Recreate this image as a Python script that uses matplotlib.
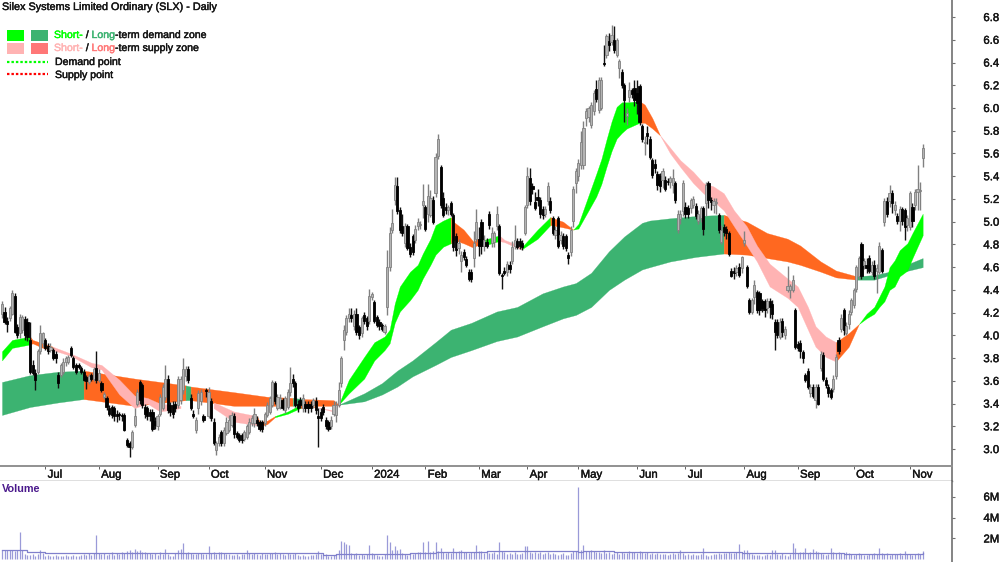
import matplotlib
matplotlib.use("Agg")
import matplotlib.pyplot as plt
import matplotlib.patheffects as pe
from matplotlib.patches import Rectangle

plt.rcParams['font.family'] = ['Liberation Sans', 'DejaVu Sans']

TITLE = "Silex Systems Limited Ordinary (SLX) - Daily"
price_ticks = [3.0, 3.2, 3.4, 3.6, 3.8, 4.0, 4.2, 4.4, 4.6, 4.8, 5.0, 5.2, 5.4, 5.6, 5.8, 6.0, 6.2, 6.4, 6.6, 6.8]
month_pos = [17, 38, 61, 81, 103, 125, 145, 166, 187, 206, 226, 249, 268, 291, 312, 334, 356]
month_labels = ["Jul", "Aug", "Sep", "Oct", "Nov", "Dec", "2024", "Feb", "Mar", "Apr", "May", "Jun", "Jul", "Aug", "Sep", "Oct", "Nov"]
vol_ticks = [2, 4, 6]
vol_tick_labels = ["2M", "4M", "6M"]

opens = [
 4.19,4.21,4.13,4.15,4.19,4.35,4.07,4.02,4.05,4.14, 4.12,3.96,3.74,3.67,3.68,3.86,3.93,3.96,3.91,3.87,
 3.87,3.84,3.65,3.65,3.68,3.77,3.77,3.89,3.80,3.74, 3.74,3.71,3.68,3.63,3.59,3.65,3.62,3.71,3.61,3.58,
 3.46,3.45,3.36,3.37,3.36,3.31,3.31,3.30,3.30,3.08, 3.05,3.02,3.21,3.40,3.59,3.56,3.37,3.36,3.33,3.33,
 3.25,3.20,3.31,3.36,3.46,3.62,3.39,3.39,3.40,3.39, 3.43,3.52,3.64,3.70,3.45,3.31,3.17,3.36,3.42,3.29,
 3.52,3.29,3.42,3.24,2.99,3.05,3.15,3.05,3.14,3.17, 3.21,3.29,3.14,3.12,3.12,3.09,3.11,3.15,3.23,3.23,
 3.26,3.24,3.24,3.23,3.30,3.33,3.39,3.58,3.36,3.37, 3.43,3.34,3.37,3.50,3.62,3.58,3.40,3.43,3.36,3.40,
 3.40,3.40,3.39,3.42,3.29,3.33,3.37,3.26,3.24,3.20, 3.31,3.30,3.39,3.58,3.96,4.03,4.15,4.18,4.08,4.19,
 4.07,4.02,4.18,4.15,4.13,4.34,4.29,4.16,4.12,4.09, 4.03,4.25,4.60,4.93,5.19,5.31,5.10,4.96,4.81,4.96,
 4.78,4.87,4.84,4.96,4.97,5.15,5.13,5.07,5.06,5.19, 5.25,5.58,5.48,5.21,5.13,5.10,5.16,5.06,4.87,4.77,
 4.65,4.73,4.67,4.56,4.56,4.68,4.85,4.85,5.00,4.79, 4.82,5.07,4.81,4.82,4.96,4.96,4.53,4.57,4.56,4.62,
 4.65,4.79,4.83,4.83,4.81,4.90,5.15,5.38,5.31,5.17, 5.22,5.19,5.11,5.07,5.18,5.18,5.03,4.88,5.03,4.84,
 4.87,4.87,4.71,4.73,5.01,5.34,5.40,5.50,5.50,5.91, 5.92,5.85,5.97,6.17,5.98,6.00,6.40,6.47,6.59,6.58,
 6.60,6.47,6.35,6.32,6.20,5.93,6.10,6.16,6.18,6.13, 6.19,5.84,5.69,5.78,5.73,5.54,5.51,5.42,5.40,5.37,
 5.37,5.36,5.35,5.32,5.34,4.93,5.02,5.09,5.13,5.12, 5.12,5.15,5.14,5.01,5.03,5.12,5.16,5.34,5.19,5.15,
 5.16,5.06,4.82,4.95,4.94,4.90,4.57,4.57,4.56,4.60, 4.59,4.81,4.60,4.31,4.21,4.34,4.38,4.37,4.30,4.30,
 4.24,4.30,4.28,4.12,4.12,3.99,4.13,4.00,4.40,4.40, 4.40,4.22,3.92,3.93,3.85,3.65,3.69,3.49,3.55,3.43,
 3.55,3.71,3.83,3.61,3.55,3.52,3.53,3.64,3.96,4.06, 4.22,4.02,4.10,4.21,4.27,4.41,4.52,4.80,4.62,4.62,
 4.68,4.56,4.62,4.57,4.56,4.75,5.00,5.18,5.18,5.25, 5.10,5.05,5.01,5.11,5.10,4.97,4.95,5.13,5.15,5.26,5.27,5.56]
closes = [
 4.28,4.12,4.10,4.24,4.37,4.03,4.00,4.16,4.16,4.00, 3.99,3.68,3.67,3.61,3.86,4.02,4.02,3.89,3.86,3.90,
 3.80,3.80,3.58,3.74,3.77,3.80,3.81,3.83,3.72,3.68, 3.72,3.68,3.61,3.60,3.64,3.62,3.70,3.61,3.67,3.52,
 3.48,3.37,3.31,3.30,3.29,3.29,3.30,3.29,3.17,3.04, 3.02,3.15,3.29,3.50,3.43,3.39,3.31,3.29,3.29,3.18,
 3.21,3.29,3.46,3.55,3.62,3.34,3.33,3.31,3.36,3.62, 3.62,3.70,3.70,3.61,3.36,3.29,3.26,3.49,3.50,3.26,
 3.51,3.50,3.27,3.05,3.05,3.11,3.05,3.17,3.24,3.26, 3.30,3.13,3.11,3.08,3.08,3.15,3.20,3.24,3.27,3.31,
 3.23,3.18,3.18,3.31,3.39,3.45,3.59,3.42,3.46,3.45, 3.36,3.45,3.50,3.58,3.58,3.39,3.36,3.39,3.45,3.36,
 3.36,3.36,3.43,3.34,3.27,3.27,3.33,3.20,3.18,3.26, 3.39,3.39,3.52,3.80,4.05,4.15,4.19,4.15,4.19,4.03,
 4.00,4.15,4.13,4.08,4.35,4.36,4.13,4.09,4.08,4.06, 4.08,4.60,4.90,4.99,5.32,5.09,4.93,4.90,4.96,4.77,
 4.72,4.73,4.94,5.00,4.98,5.18,4.94,5.23,5.21,5.00, 5.57,5.73,5.15,5.06,5.10,5.13,5.07,4.78,4.75,4.81,
 4.71,4.69,4.62,4.50,4.50,4.81,5.00,4.79,4.79,4.84, 4.79,4.97,4.90,4.90,5.07,4.55,4.52,4.55,4.63,4.58,
 4.78,4.84,4.78,4.79,4.78,5.13,5.40,5.18,5.29,5.12, 5.19,5.07,5.06,5.11,5.31,5.10,4.90,4.93,4.79,4.88,
 4.79,4.77,4.68,4.93,5.29,5.45,5.52,5.70,5.82,5.97, 6.00,6.03,6.13,6.08,6.25,6.25,6.39,6.63,6.55,6.64,
 6.51,6.60,6.41,6.20,6.07,5.96,6.16,6.12,6.07,6.04, 5.88,5.73,5.70,5.75,5.57,5.41,5.47,5.32,5.31,5.45,
 5.29,5.35,5.38,5.38,5.19,5.07,5.07,5.34,5.07,5.07, 5.19,5.20,5.05,5.07,5.12,4.94,5.32,5.19,5.17,5.18,
 5.17,4.93,4.93,4.91,4.90,4.72,4.52,4.55,4.59,4.53, 4.69,4.84,4.43,4.21,4.31,4.44,4.22,4.22,4.24,4.22,
 4.30,4.25,4.19,4.03,4.00,4.12,4.03,4.06,4.43,4.43, 4.49,3.90,3.89,3.86,3.80,3.61,3.55,3.55,3.47,3.55,
 3.40,3.84,3.62,3.56,3.49,3.46,3.62,3.81,3.86,4.15, 4.05,4.08,4.19,4.31,4.40,4.60,4.68,4.52,4.65,4.59,
 4.57,4.62,4.52,4.59,4.79,4.57,5.18,5.07,5.25,5.16, 5.15,5.01,5.11,5.01,4.95,5.03,5.25,5.01,5.26,5.29,5.28,5.65]
lows = [
 4.15,4.10,4.03,4.13,4.18,4.02,3.98,3.98,4.02,3.96, 3.95,3.66,3.65,3.52,3.66,3.84,3.90,3.87,3.84,3.85,
 3.78,3.76,3.54,3.63,3.66,3.73,3.75,3.81,3.70,3.66, 3.70,3.66,3.60,3.53,3.57,3.60,3.60,3.58,3.59,3.50,
 3.44,3.34,3.29,3.27,3.25,3.24,3.26,3.25,3.16,3.02, 2.93,3.00,3.19,3.38,3.40,3.36,3.27,3.26,3.25,3.16,
 3.18,3.17,3.29,3.34,3.43,3.32,3.29,3.27,3.33,3.36, 3.40,3.48,3.60,3.58,3.34,3.27,3.14,3.31,3.39,3.24,
 3.46,3.27,3.25,3.04,2.95,3.03,3.03,3.03,3.12,3.15, 3.19,3.10,3.09,3.06,3.05,3.07,3.09,3.13,3.20,3.19,
 3.20,3.16,3.15,3.20,3.28,3.31,3.37,3.40,3.34,3.35, 3.34,3.32,3.35,3.47,3.55,3.37,3.33,3.36,3.33,3.33,
 3.32,3.33,3.36,3.31,3.02,3.25,3.30,3.18,3.16,3.18, 3.29,3.24,3.37,3.55,3.87,4.00,4.12,4.12,4.05,4.00,
 3.97,3.99,4.10,4.05,4.10,4.31,4.11,4.07,4.05,4.04, 4.01,4.18,4.57,4.90,5.15,5.07,4.90,4.87,4.78,4.75,
 4.69,4.71,4.81,4.93,4.94,5.03,4.92,5.00,5.04,4.98, 5.22,5.55,5.12,5.04,5.07,5.06,5.05,4.74,4.70,4.72,
 4.56,4.66,4.60,4.48,4.47,4.60,4.82,4.70,4.72,4.74, 4.77,4.94,4.78,4.78,4.93,4.53,4.41,4.53,4.52,4.55,
 4.63,4.76,4.76,4.76,4.75,4.88,5.12,5.15,5.24,5.10, 5.14,5.03,5.02,5.04,5.15,5.08,4.88,4.85,4.77,4.80,
 4.76,4.74,4.63,4.70,4.95,5.25,5.36,5.46,5.46,5.84, 5.88,5.82,5.94,6.05,5.96,5.98,6.37,6.44,6.50,6.55,
 6.48,6.45,6.26,6.18,5.88,5.85,6.05,6.09,6.02,5.95, 5.85,5.70,5.59,5.68,5.55,5.38,5.43,5.28,5.26,5.30,
 5.27,5.32,5.30,5.25,5.16,4.90,4.98,5.05,5.03,5.03, 5.08,5.12,5.02,4.98,5.00,4.88,5.05,5.12,5.10,5.08,
 5.07,4.90,4.80,4.87,4.85,4.70,4.51,4.50,4.52,4.51, 4.55,4.79,4.42,4.19,4.19,4.28,4.20,4.18,4.21,4.16,
 4.20,4.15,4.14,3.87,3.98,3.97,3.99,3.97,4.38,4.33, 4.38,3.88,3.86,3.80,3.76,3.59,3.53,3.46,3.45,3.36,
 3.39,3.69,3.60,3.54,3.46,3.44,3.50,3.62,3.84,4.03, 4.00,4.00,4.06,4.18,4.24,4.38,4.50,4.50,4.58,4.55,
 4.55,4.53,4.50,4.37,4.54,4.55,4.96,5.04,5.13,5.08, 5.06,4.98,4.92,4.97,4.84,4.92,4.93,4.95,5.10,5.10,5.10,5.48]
highs = [
 4.30,4.25,4.16,4.26,4.40,4.37,4.10,4.19,4.18,4.17, 4.15,4.12,3.78,3.70,3.88,4.09,4.03,3.98,3.93,3.93,
 3.89,3.86,3.68,3.76,3.80,3.82,3.83,3.91,3.82,3.76, 3.76,3.73,3.70,3.65,3.66,3.67,3.72,3.86,3.70,3.60,
 3.50,3.47,3.39,3.39,3.38,3.34,3.33,3.32,3.32,3.10, 3.07,3.17,3.36,3.53,3.61,3.58,3.40,3.38,3.35,3.35,
 3.28,3.31,3.48,3.57,3.74,3.65,3.41,3.42,3.42,3.64, 3.64,3.80,3.73,3.73,3.48,3.34,3.28,3.52,3.53,3.31,
 3.54,3.55,3.45,3.27,3.07,3.13,3.17,3.19,3.28,3.30, 3.33,3.32,3.16,3.14,3.14,3.17,3.22,3.27,3.30,3.36,
 3.29,3.26,3.26,3.33,3.41,3.47,3.61,3.60,3.48,3.48, 3.45,3.47,3.53,3.72,3.66,3.60,3.43,3.46,3.48,3.42,
 3.42,3.42,3.45,3.46,3.36,3.36,3.40,3.28,3.26,3.29, 3.42,3.42,3.59,3.82,4.09,4.18,4.24,4.24,4.22,4.24,
 4.09,4.17,4.21,4.17,4.41,4.38,4.31,4.18,4.14,4.11, 4.10,4.75,4.95,5.11,5.39,5.39,5.13,5.07,4.99,4.98,
 4.81,4.89,4.97,5.03,5.01,5.33,5.15,5.33,5.28,5.23, 5.60,5.77,5.50,5.26,5.16,5.15,5.18,5.08,4.90,4.85,
 4.74,4.76,4.70,4.58,4.58,4.92,5.11,4.95,5.02,4.88, 4.86,5.09,4.95,4.92,5.14,4.98,4.55,4.60,4.65,4.65,
 4.83,4.97,4.86,4.86,4.84,5.15,5.48,5.47,5.34,5.26, 5.29,5.22,5.14,5.14,5.35,5.22,5.05,4.96,5.05,4.92,
 4.90,4.89,4.73,4.96,5.31,5.47,5.55,5.80,5.89,6.00, 6.02,6.05,6.16,6.25,6.27,6.27,6.55,6.65,6.66,6.73,
 6.72,6.62,6.43,6.34,6.22,6.00,6.23,6.18,6.25,6.25, 6.21,5.86,5.75,5.84,5.75,5.56,5.55,5.45,5.43,5.47,
 5.40,5.38,5.40,5.46,5.36,5.10,5.10,5.37,5.17,5.15, 5.21,5.23,5.16,5.10,5.14,5.14,5.35,5.36,5.22,5.21,
 5.21,5.08,4.97,4.98,4.96,4.92,4.59,4.60,4.62,4.64, 4.70,4.92,4.62,4.33,4.33,4.49,4.40,4.39,4.32,4.32,
 4.33,4.33,4.31,4.14,4.14,4.15,4.15,4.08,4.61,4.45, 4.53,4.24,3.95,3.96,3.87,3.67,3.71,3.57,3.57,3.57,
 3.57,3.86,3.85,3.63,3.57,3.54,3.65,3.84,3.99,4.19, 4.24,4.12,4.22,4.33,4.42,4.62,4.70,4.82,4.68,4.68,
 4.71,4.65,4.66,4.63,4.82,4.77,5.21,5.22,5.32,5.28, 5.18,5.08,5.14,5.13,5.12,5.06,5.27,5.16,5.29,5.50,5.35,5.68]
volumes = [
 .95,.9,.95,.9,.95,.85,.9,2.65,.9,.5, .45,.4,.5,.35,.5,.95,.6,.3,.4,.35,
 .3,.4,.35,.3,.35,.4,.3,.35,.45,.3, .35,.4,.5,.45,.6,.45,.6,2.3,.6,.5,
 .6,.45,.55,.7,.4,.6,.5,.7,.65,.8, .9,.7,1.0,.85,.9,.7,.75,.6,.65,.5,
 .65,.4,.7,.5,1.0,.55,.3,.35,.6,.95, 1.0,1.55,.6,.7,.6,.55,.5,.65,.6,.5,
 .55,1.3,.6,.7,.5,.7,.75,.6,.5,.55, .4,.45,.5,.35,.5,.55,.9,.65,.5,.6,
 .5,.45,.6,.5,.55,.65,.6,.7,.5,.6, .5,.45,.6,.55,.5,.6,.45,.35,.4,.35,
 .3,.4,.45,.5,.8,.55,.4,.5,.35,.3, .4,.55,.95,1.8,1.7,1.45,1.35,.6,.5,.6,
 .45,.55,.4,.5,1.4,.6,.5,.4,.35,.3, .5,2.35,1.65,.9,1.25,.95,1.0,.6,.55,.45,
 .6,.5,.65,.7,.75,1.7,.7,1.75,.7,.8, 1.7,.8,1.1,.75,.6,.7,.6,1.1,.7,.8,
 .9,.7,.75,.6,.7,.75,1.4,.85,.8,.6, .7,.6,.65,.7,.5,1.7,.8,.7,.55,.6,
 .5,.7,.55,.5,.6,1.3,1.3,.7,.6,.75, .6,.7,.55,.6,.7,.5,.6,.55,.45,.5,
 .6,.45,.4,.65,.8,.8,6.9,.9,1.35,.85, .8,.9,.85,.7,.75,.6,.9,.65,.7,.5,
 .6,.7,.55,.75,.65,.6,.8,.7,.75,.65, .8,.7,.6,.7,.55,.65,.5,.6,.55,.5,
 .55,.45,.5,.6,.55,.65,.9,.6,.4,.5, .45,.5,.4,.45,.5,1.1,.45,.35,.4,.55,
 .5,.6,.55,.65,.6,.7,.65,.6,.7,1.5, .6,.9,.9,.6,.5,.45,.4,.45,.35,.4,
 .5,.45,.9,.9,.5,.45,.6,.4,.35,.5, 1.6,1.1,.6,.7,.75,1.1,.65,.7,1.0,.8,
 .7,.6,.5,.45,.55,1.1,.7,.65,.75,.6, .55,.7,.6,.5,.45,.55,.6,.5,.45,.4,
 .5,.55,.6,.5,1.1,.6,.55,.6,.45,.5, .55,.5,.6,.45,.8,.5,.55,.45,.5,.6,.5,.8]
vol_avg_x = [0, 7, 10, 17, 38, 60, 85, 100, 126, 131, 146, 160, 170, 190, 226, 228, 240, 290, 330, 361]
vol_avg_y = [.95, .9, .7, .62, .58, .6, .65, .6, .47, .55, .55, .6, .7, .8, .75, .85, .75, .6, .55, .6]

# Long-term zone: position, top, bottom, then colour runs
lt_x   = [0, 11, 22, 32, 52, 72, 74, 91, 104, 114, 118, 130, 132, 142, 149, 155, 161, 170, 176, 184, 194, 202, 212, 220, 225, 231, 238, 244, 251, 254, 262, 272, 283, 292, 300, 308, 313, 321, 327, 335, 342, 348, 361]
lt_top = [3.59, 3.65, 3.68, 3.69, 3.62, 3.56, 3.55, 3.50, 3.46, 3.45, 3.44, 3.43, 3.39, 3.49, 3.58, 3.69, 3.78, 3.94, 4.05, 4.11, 4.21, 4.25, 4.37, 4.43, 4.46, 4.55, 4.74, 4.87, 4.99, 5.01, 5.03, 5.05, 5.06, 5.00, 4.90, 4.85, 4.79, 4.65, 4.57, 4.52, 4.53, 4.56, 4.68]
lt_bot = [3.30, 3.37, 3.41, 3.44, 3.38, 3.43, 3.43, 3.38, 3.38, 3.38, 3.38, 3.38, 3.39, 3.42, 3.48, 3.55, 3.64, 3.74, 3.81, 3.87, 3.95, 3.99, 4.08, 4.15, 4.18, 4.25, 4.40, 4.49, 4.58, 4.60, 4.65, 4.69, 4.72, 4.71, 4.68, 4.65, 4.62, 4.56, 4.51, 4.49, 4.49, 4.53, 4.60]
lt_runs = [(0, 32, 'd'), (32, 72, 's'), (72, 74, 'd'), (74, 114, 's'), (114, 118, 'd'), (118, 132, 's'), (132, 283, 'd'), (283, 335, 's'), (335, 361, 'd')]

# Short-term zone: position, top, bottom, then colour runs
st_x = [0, 4, 11, 12, 16, 20, 27, 35, 39, 46, 52, 57, 62, 70, 83, 91, 100, 101, 104, 107, 112, 117, 123, 130, 132,
        136, 142, 146, 150, 152, 154, 156, 160, 163, 165, 168, 170, 173, 176, 177, 181, 185, 186, 189, 195, 197, 203, 204, 210, 215, 220, 224, 226,
        233, 235, 237, 239, 241, 243, 245, 250, 252, 255, 258, 262, 266, 271, 275, 279, 283, 287, 292, 296, 301, 308, 312, 316, 319, 323, 327, 332,
        336, 339, 342, 344, 346, 348, 350, 352, 355, 357, 361]
st_top = [3.86, 3.96, 3.99, 3.96, 3.93, 3.90, 3.84, 3.76, 3.74, 3.61, 3.47, 3.45, 3.40, 3.38, 3.41, 3.33, 3.29, 3.24, 3.25, 3.29, 3.33, 3.39, 3.37, 3.34, 3.39,
          3.61, 3.81, 3.94, 3.99, 4.05, 4.28, 4.43, 4.56, 4.62, 4.72, 4.85, 4.97, 5.01, 5.04, 5.00, 4.93, 4.82, 4.85, 4.84, 4.88, 4.84, 4.79, 4.78, 4.93, 5.04, 5.00, 4.93, 4.98,
          5.42, 5.55, 5.72, 5.88, 6.01, 6.05, 6.05, 6.06, 6.03, 5.91, 5.76, 5.65, 5.54, 5.44, 5.34, 5.31, 5.25, 5.10, 4.96, 4.79, 4.63, 4.50, 4.43, 4.25, 4.08, 3.99, 3.94, 4.02,
          4.10, 4.19, 4.25, 4.34, 4.43, 4.60, 4.66, 4.75, 4.81, 4.90, 5.07]
st_bot = [3.78, 3.89, 3.92, 3.93, 3.89, 3.87, 3.82, 3.72, 3.70, 3.48, 3.36, 3.40, 3.33, 3.36, 3.36, 3.24, 3.21, 3.20, 3.22, 3.28, 3.31, 3.36, 3.37, 3.33, 3.39,
          3.49, 3.62, 3.78, 3.87, 3.93, 4.11, 4.21, 4.31, 4.40, 4.50, 4.62, 4.71, 4.78, 4.81, 4.84, 4.81, 4.77, 4.79, 4.79, 4.83, 4.82, 4.76, 4.76, 4.85, 4.97, 4.95, 4.93, 4.94,
          5.22, 5.33, 5.48, 5.62, 5.73, 5.78, 5.82, 5.87, 5.87, 5.82, 5.76, 5.60, 5.48, 5.34, 5.25, 5.18, 5.10, 4.96, 4.79, 4.65, 4.43, 4.33, 4.25, 4.05, 3.90, 3.81, 3.77, 3.90,
          4.10, 4.15, 4.19, 4.25, 4.30, 4.40, 4.43, 4.52, 4.57, 4.68, 4.88]
st_runs = [(0, 11, 'D'), (11, 20, 's'), (20, 70, 'S'), (83, 100, 'S'), (100, 107, 's'), (107, 117, 'D'), (117, 123, 's'), (123, 132, 'S'),
           (132, 176, 'D'), (176, 189, 's'), (189, 195, 'D'), (195, 204, 'S'), (204, 215, 'D'), (215, 224, 's'), (224, 250, 'D'),
           (250, 258, 's'), (258, 327, 'S'), (327, 336, 's'), (336, 361, 'D')]

ZONE_COL = {'d': '#3cb371', 's': '#ff6820', 'D': '#00ff00', 'S': '#ffb3b3'}
W, H = 1000, 562
RIGHT, STRIP_T, STRIP_B = 952, 466, 481
XMIN, XMAX = -0.78, 372.5

fig = plt.figure(figsize=(10, 5.62), dpi=100, facecolor='white')

def axpx(x0, y0, x1, y1):
    return fig.add_axes([x0 / W, 1 - y1 / H, (x1 - x0) / W, (y1 - y0) / H])

ax = axpx(0, 0, RIGHT, STRIP_T)
strip = axpx(0, STRIP_T, RIGHT, STRIP_B)
vol = axpx(0, STRIP_B, RIGHT, H)

ax.set_xlim(XMIN, XMAX)
ax.set_ylim(2.851, 6.95)
strip.set_xlim(XMIN, XMAX)
strip.set_ylim(0, 1)
vol.set_xlim(XMIN, XMAX)
vol.set_ylim(-0.24, 7.48)

def draw_zone(xs, top, bot, runs):
    for a, b, key in runs:
        idx = [k for k, v in enumerate(xs) if a <= v <= b]
        ax.fill_between([xs[k] for k in idx], [top[k] for k in idx], [bot[k] for k in idx],
                        color=ZONE_COL[key], lw=0.2, zorder=2)

draw_zone(lt_x, lt_top, lt_bot, lt_runs)
draw_zone(st_x, st_top, st_bot, st_runs)

for i, (o, c, l, h) in enumerate(zip(opens, closes, lows, highs)):
    up = c >= o
    ax.vlines(i, l, h, color='#808080' if up else '#111111', lw=1.0, zorder=3)
    ax.bar(i, abs(c - o), bottom=min(o, c), width=0.85,
           facecolor='#b4b4b4' if up else '#000000',
           edgecolor='#808080' if up else '#000000', linewidth=0.6, zorder=4)

vol.vlines(range(len(volumes)), 0, volumes, color='#9a9ad8', lw=0.9, zorder=2)
vol.step(vol_avg_x, vol_avg_y, where='post', color='#8080cc', lw=0.9, zorder=3)

for a in (ax, strip, vol):
    for s in ('left', 'top', 'bottom'):
        a.spines[s].set_visible(False)
    a.spines['right'].set_color('#707070')
    a.spines['right'].set_linewidth(1.2)
    a.set_xticks([])

strip.spines['top'].set_visible(True)
strip.spines['top'].set_color('#909090')
strip.spines['top'].set_linewidth(1.4)
strip.spines['bottom'].set_visible(True)
strip.spines['bottom'].set_color('#606060')
strip.spines['bottom'].set_linewidth(1.0)
strip.set_yticks([])

TXT = '#151515'
FS = 8.2
LEG_FS = 7.6

def thick(col, w=0.3):
    return [pe.withStroke(linewidth=w, foreground=col)]

def right_ticks(a, ticks, labels):
    a.yaxis.tick_right()
    a.set_yticks(ticks)
    a.set_yticklabels(labels)
    a.tick_params(axis='y', length=2.5, width=0.8, color='#707070', pad=31.5, labelsize=FS, labelcolor=TXT)
    for t in a.get_yticklabels():
        t.set_ha('right')
        t.set_path_effects(thick(TXT))

right_ticks(ax, price_ticks, [f"{v:.1f}" for v in price_ticks])
right_ticks(vol, vol_ticks, vol_tick_labels)

for p, lab in zip(month_pos, month_labels):
    strip.vlines(p, 0.82, 1.0, color='#606060', lw=0.7)
    strip.text(p + 0.9, 0.42, lab, fontsize=FS, color=TXT, va='center', ha='left', path_effects=thick(TXT))

fig.text(2 / W, 1 - 7 / H, TITLE, fontsize=7.8, color=TXT, va='center', ha='left', path_effects=thick(TXT))
fig.text(2 / W, 1 - 489 / H, "Volume", fontsize=7.8, color='#4b1a8c', va='center', ha='left', fontweight='bold')

# Legend
boxes = [(7, 30, '#00ff00'), (31, 30, '#3cb371'), (7, 43, '#ffb3b3'), (31, 43, '#ff7777')]
for bx, by, col in boxes:
    fig.add_artist(Rectangle((bx / W, 1 - (by + 10.5) / H), 17 / W, 10.5 / H, transform=fig.transFigure,
                             facecolor=col, edgecolor='none'))
for ly, col in [(62, '#00ff00'), (74, '#ff0000')]:
    fig.add_artist(plt.Line2D([7 / W, 48 / W], [1 - ly / H, 1 - ly / H], transform=fig.transFigure,
                              color=col, lw=1.6, linestyle=(0, (1.1, 0.9))))

def text_width(s, r):
    t = fig.text(0, 0, s + "|", fontsize=LEG_FS)
    b = fig.text(0, 0, "|", fontsize=LEG_FS)
    w = t.get_window_extent(r).width - b.get_window_extent(r).width
    t.remove()
    b.remove()
    return w

def multi_text(x_px, y_px, parts):
    r = fig.canvas.get_renderer()
    prefix = ""
    for s, col in parts:
        x = x_px + text_width(prefix, r) if prefix else x_px
        fig.text(x / W, 1 - y_px / H, s, fontsize=LEG_FS, color=col, va='center', ha='left',
                 path_effects=thick(col))
        prefix += s

multi_text(54, 35, [("Short-", '#00ff00'), (" / ", TXT), ("Long", '#3cb371'), ("-term demand zone", TXT)])
multi_text(54, 48, [("Short-", '#ffb3b3'), (" / ", TXT), ("Long", '#ff7777'), ("-term supply zone", TXT)])
multi_text(55, 62, [("Demand point", TXT)])
multi_text(55, 75, [("Supply point", TXT)])

fig.savefig("out.png", dpi=100, facecolor='white')
